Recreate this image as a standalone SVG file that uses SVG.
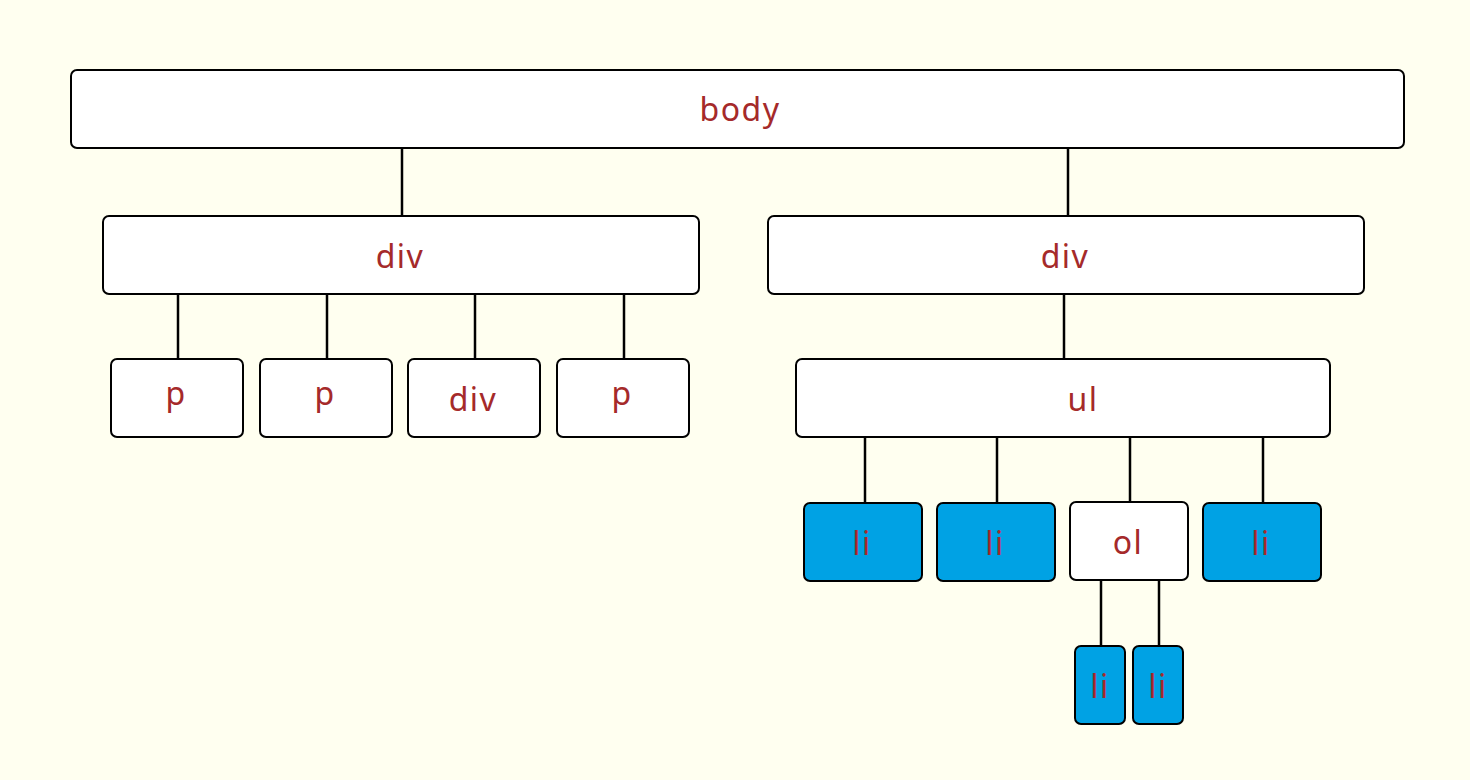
<svg xmlns="http://www.w3.org/2000/svg" width="1470" height="780" viewBox="0 0 1470 780">
<style>
.n rect{stroke:#000;stroke-width:2;fill:#fff}
.n.b rect{fill:#00a2e4}
.n text{font-family:"Noto Sans","Open Sans",sans-serif;font-size:32px;fill:#a52a2a;text-anchor:middle;letter-spacing:1.5px}
#edges line{stroke:#000;stroke-width:2.5}
</style>
<rect width="1470" height="780" fill="#fffff0"/>
<g id="edges">
<line x1="402" y1="148" x2="402" y2="216"/>
<line x1="1068" y1="148" x2="1068" y2="216"/>
<line x1="178" y1="294" x2="178" y2="359"/>
<line x1="327" y1="294" x2="327" y2="359"/>
<line x1="475" y1="294" x2="475" y2="359"/>
<line x1="624" y1="294" x2="624" y2="359"/>
<line x1="1064" y1="294" x2="1064" y2="359"/>
<line x1="865" y1="437" x2="865" y2="503"/>
<line x1="997" y1="437" x2="997" y2="503"/>
<line x1="1130" y1="437" x2="1130" y2="502"/>
<line x1="1263" y1="437" x2="1263" y2="503"/>
<line x1="1101" y1="580" x2="1101" y2="646"/>
<line x1="1159" y1="580" x2="1159" y2="646"/>
</g>
<g id="body" class="n"><rect x="71" y="70" width="1333" height="78" rx="6"/><text x="740" y="121">body</text></g>
<g id="div1" class="n"><rect x="103" y="216" width="596" height="78" rx="6"/><text x="400" y="268">div</text></g>
<g id="div2" class="n"><rect x="768" y="216" width="596" height="78" rx="6"/><text x="1065" y="268">div</text></g>
<g id="p1" class="n"><rect x="111" y="359" width="132" height="78" rx="6"/><text x="176" y="405">p</text></g>
<g id="p2" class="n"><rect x="260" y="359" width="132" height="78" rx="6"/><text x="325" y="405">p</text></g>
<g id="div3" class="n"><rect x="408" y="359" width="132" height="78" rx="6"/><text x="473" y="411">div</text></g>
<g id="p3" class="n"><rect x="557" y="359" width="132" height="78" rx="6"/><text x="622" y="405">p</text></g>
<g id="ul" class="n"><rect x="796" y="359" width="534" height="78" rx="6"/><text x="1083" y="411">ul</text></g>
<g id="li1" class="n b"><rect x="804" y="503" width="118" height="78" rx="6"/><text x="862" y="555">li</text></g>
<g id="li2" class="n b"><rect x="937" y="503" width="118" height="78" rx="6"/><text x="995" y="555">li</text></g>
<g id="ol" class="n"><rect x="1070" y="502" width="118" height="78" rx="6"/><text x="1128" y="554">ol</text></g>
<g id="li3" class="n b"><rect x="1203" y="503" width="118" height="78" rx="6"/><text x="1261" y="555">li</text></g>
<g id="li4" class="n b"><rect x="1075" y="646" width="50" height="78" rx="6"/><text x="1100" y="698">li</text></g>
<g id="li5" class="n b"><rect x="1133" y="646" width="50" height="78" rx="6"/><text x="1158" y="698">li</text></g>
</svg>
